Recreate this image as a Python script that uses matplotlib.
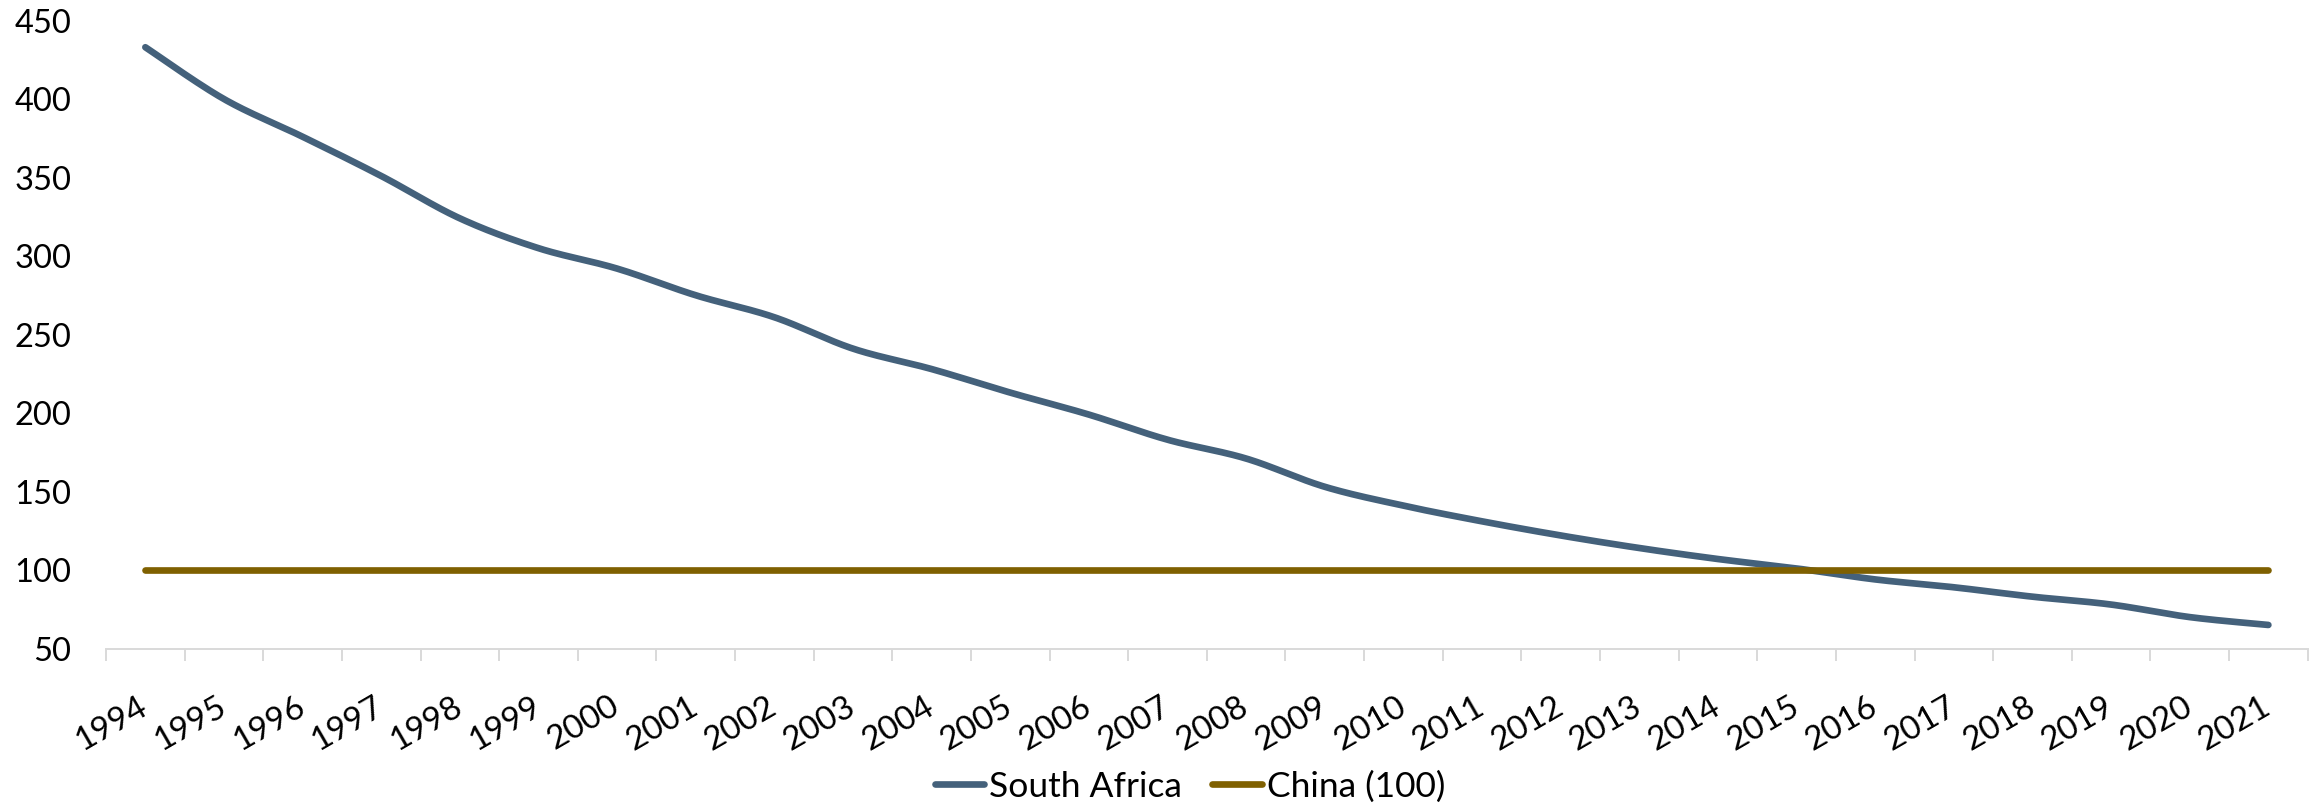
import matplotlib
matplotlib.use("Agg")
import matplotlib.pyplot as plt
import numpy as np

plt.rcParams['font.family'] = ['Lato', 'DejaVu Sans']

years = ['1994', '1995', '1996', '1997', '1998', '1999', '2000', '2001', '2002', '2003',
         '2004', '2005', '2006', '2007', '2008', '2009', '2010', '2011', '2012', '2013',
         '2014', '2015', '2016', '2017', '2018', '2019', '2020', '2021']
south_africa = [433, 400, 376, 351, 324, 305, 292, 275, 261, 241,
                228, 213, 199, 183, 171, 153, 141, 131, 122, 114,
                107, 101, 94, 89, 83, 78, 70, 65]
china = [100, 100, 100, 100, 100, 100, 100, 100, 100, 100,
         100, 100, 100, 100, 100, 100, 100, 100, 100, 100,
         100, 100, 100, 100, 100, 100, 100, 100]

sa_color = '#44617b'
cn_color = '#7f6000'
axis_grey = '#d9d9d9'


def smooth(x, y, n=30):
    # excel-style smoothed line (catmull-rom bezier between points)
    x = np.asarray(x, float)
    y = np.asarray(y, float)
    px = np.concatenate([[x[0]], x, [x[-1]]])
    py = np.concatenate([[y[0]], y, [y[-1]]])
    t = np.linspace(0, 1, n)[:, None]
    xs, ys = [], []
    for i in range(1, len(px) - 2):
        p0 = np.array([px[i], py[i]])
        p3 = np.array([px[i + 1], py[i + 1]])
        c1 = p0 + (p3 - np.array([px[i - 1], py[i - 1]])) / 6
        c2 = p3 - (np.array([px[i + 2], py[i + 2]]) - p0) / 6
        pts = ((1 - t) ** 3) * p0 + 3 * ((1 - t) ** 2) * t * c1 + 3 * (1 - t) * t ** 2 * c2 + t ** 3 * p3
        xs.append(pts[:, 0])
        ys.append(pts[:, 1])
    return np.concatenate(xs), np.concatenate(ys)


fig = plt.figure(figsize=(23.2, 8.06), dpi=100)
ax = fig.add_axes([0.0457, 0.1954, 0.949, 0.7791])

x = np.arange(len(years))
sx, sy = smooth(x, south_africa)
ax.plot(sx, sy, color=sa_color, lw=4.8, solid_capstyle='round', label='South Africa')
ax.plot(x, china, color=cn_color, lw=4.8, solid_capstyle='round', label='China (100)')

ax.set_xlim(-0.5, len(years) - 0.5)
ax.set_ylim(50, 450)
ax.set_yticks(np.arange(50, 451, 50))
ax.tick_params(axis='y', length=0, pad=25, labelsize=23.5)

ax.set_xticks(x)
ax.set_xticklabels(years, rotation=30, ha='right', va='center', rotation_mode='anchor')
ax.set_xticks(np.arange(-0.5, len(years), 1), minor=True)
ax.tick_params(axis='x', which='major', length=0, pad=40, labelsize=24)
ax.tick_params(axis='x', which='minor', length=8.6, width=1.4, color=axis_grey, direction='out')

for s in ['top', 'right', 'left']:
    ax.spines[s].set_visible(False)
ax.spines['bottom'].set_color(axis_grey)
ax.spines['bottom'].set_linewidth(1.4)

fig.legend(loc='center', bbox_to_anchor=(0.513, 0.024), ncol=2, frameon=False,
           fontsize=25.5, handlelength=1.4, handletextpad=0.15, columnspacing=0.85)

fig.savefig('out.png', dpi=100)
